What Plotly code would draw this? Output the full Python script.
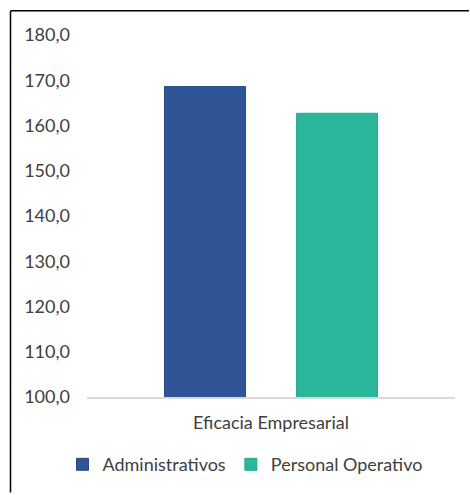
import plotly.graph_objects as go

categories = ["Eficacia Empresarial"]
series_names = ["Administrativos", "Personal Operativo"]
admin_values = [168.6]
operativo_values = [162.7]
y_ticks = [100, 110, 120, 130, 140, 150, 160, 170, 180]

colors = ["#2F5597", "#2BB59A"]
edge_colors = ["#294C86", "#28A88F"]
font_family = "Lato, 'Open Sans', sans-serif"
text_color = "#404040"

fig = go.Figure()
for name, vals, col, edge in zip(series_names, [admin_values, operativo_values], colors, edge_colors):
    fig.add_trace(go.Bar(
        x=categories, y=vals, name=name,
        marker=dict(color=col, line=dict(color=edge, width=1)),
    ))

W, H = 470, 495
ml, mr, mt, mb = 87, 15, 35, 96
pw, ph = W - ml - mr, H - mt - mb

def px_to_paper_x(px):
    return (px - ml) / pw

def px_to_paper_y(py):
    return (H - mb - py) / ph

# outer chart border: left edge and top edge
border = dict(color="#000000", width=1.5)
fig.add_shape(type="line", xref="paper", yref="paper", layer="above",
              x0=px_to_paper_x(10.5), x1=px_to_paper_x(10.5),
              y0=px_to_paper_y(H), y1=px_to_paper_y(10.5), line=border)
fig.add_shape(type="line", xref="paper", yref="paper", layer="above",
              x0=px_to_paper_x(10.5), x1=px_to_paper_x(W - 1),
              y0=px_to_paper_y(10.5), y1=px_to_paper_y(10.5), line=border)

fig.update_layout(
    width=W, height=H,
    margin=dict(l=ml, r=mr, t=mt, b=mb, pad=0),
    paper_bgcolor="white", plot_bgcolor="white",
    separators=",.",
    barmode="group", bargap=0.283, bargroupgap=0.386,
    font=dict(family=font_family, size=18, color=text_color),
    showlegend=True,
    legend=dict(
        orientation="h", x=px_to_paper_x(245), xanchor="center",
        y=px_to_paper_y(467), yanchor="middle",
        font=dict(size=18, color=text_color),
        itemwidth=30, tracegroupgap=0, traceorder="normal",
    ),
    xaxis=dict(
        showgrid=False, zeroline=False, showline=True,
        linecolor="#D9D9D9", linewidth=1.5,
        ticks="", ticklabelstandoff=9,
        tickfont=dict(size=18, color=text_color),
        fixedrange=True,
    ),
    yaxis=dict(
        range=[100, 180], tickvals=y_ticks, tickformat=".1f",
        showgrid=False, zeroline=False, showline=False,
        ticks="", ticklabelstandoff=16,
        tickfont=dict(size=18, color=text_color),
        fixedrange=True,
    ),
)

fig.write_html("out.html")
